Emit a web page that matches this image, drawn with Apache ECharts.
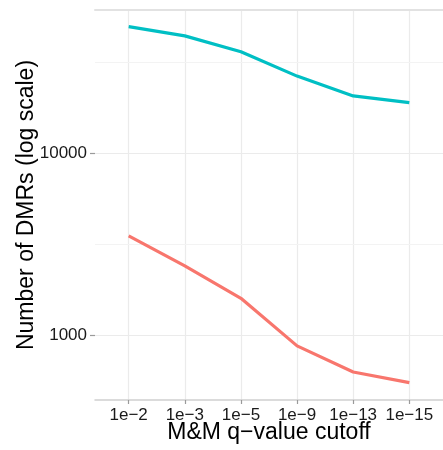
<!DOCTYPE html>
<html>
<head>
<meta charset="utf-8">
<title>Number of DMRs by M&amp;M q-value cutoff</title>
<script src="https://cdn.jsdelivr.net/npm/echarts@6/dist/echarts.min.js"></script>
<style>
  html, body { margin: 0; padding: 0; background: #ffffff; }
  #chart { width: 443px; height: 450px; }
</style>
</head>
<body>
<div id="chart"></div>
<script>
// q-value cutoffs shown along the x axis
const cutoffs = ['1e\u22122', '1e\u22123', '1e\u22125', '1e\u22129', '1e\u221213', '1e\u221215'];

// DMR counts for each cutoff
const dmrsUpper = [49800, 44300, 36200, 26600, 20700, 19000];
const dmrsLower = [3510, 2400, 1590, 870, 625, 546];

// log-scale breaks
const majorBreaks = [1000, 10000];
const minorBreaks = [3162, 31623];
const yRange = [438, 61500];

const positions = cutoffs.map((_, i) => i);
const toPoints = values => values.map((v, i) => [positions[i], v]);

const font = '"Liberation Sans", Arial, Helvetica, sans-serif';

const chart = echarts.init(document.getElementById('chart'), null, { renderer: 'canvas' });

chart.setOption({
  animation: false,
  backgroundColor: '#ffffff',
  grid: { left: 95, right: 0, top: 10, bottom: 50, containLabel: false, outerBoundsMode: 'none' },
  xAxis: [
    {
      type: 'value',
      min: -0.6,
      max: positions.length - 0.4,
      name: 'M&M q\u2212value cutoff',
      nameLocation: 'middle',
      nameGap: 21,
      nameMoveOverlap: false,
      nameTextStyle: { fontFamily: font, fontSize: 23, color: '#000000', verticalAlign: 'top' },
      axisLine: { show: true, onZero: false, lineStyle: { color: '#cfcfcf', width: 1.5 } },
      axisTick: { show: true, length: 4, customValues: positions, lineStyle: { color: '#9a9a9a', width: 1.2 } },
      axisLabel: {
        customValues: positions,
        margin: 7,
        fontFamily: font,
        fontSize: 17,
        color: '#1a1a1a',
        formatter: v => cutoffs[Math.round(v)] ?? ''
      },
      splitLine: { show: true, lineStyle: { color: '#ebebeb', width: 1.2 } }
    },
    {
      type: 'value',
      position: 'top',
      min: 0,
      max: 1,
      axisLine: { show: true, onZero: false, lineStyle: { color: '#e2e2e2', width: 2 } },
      axisTick: { show: false },
      axisLabel: { show: false },
      splitLine: { show: false }
    }
  ],
  yAxis: {
    type: 'log',
    logBase: 10,
    min: yRange[0],
    max: yRange[1],
    name: 'Number of DMRs (log scale)',
    nameLocation: 'middle',
    nameGap: 57,
    nameRotate: 90,
    nameMoveOverlap: false,
    nameTextStyle: { fontFamily: font, fontSize: 23, color: '#000000' },
    axisLine: { show: false, onZero: false },
    axisTick: { show: true, length: 5, customValues: majorBreaks, lineStyle: { color: '#9a9a9a', width: 1.2 } },
    axisLabel: {
      customValues: majorBreaks,
      margin: 8,
      fontFamily: font,
      fontSize: 17,
      color: '#1a1a1a',
      formatter: v => String(Math.round(v))
    },
    splitLine: { show: true, lineStyle: { color: '#ebebeb', width: 1.2 } }
  },
  series: [
    {
      type: 'line',
      data: toPoints(dmrsUpper),
      showSymbol: false,
      symbol: 'none',
      lineStyle: { color: '#00BFC4', width: 3.2 },
      itemStyle: { color: '#00BFC4' },
      z: 5,
      markLine: {
        silent: true,
        symbol: 'none',
        label: { show: false },
        lineStyle: { color: '#f3f3f3', width: 1, type: 'solid' },
        data: minorBreaks.map(v => ({ yAxis: v }))
      }
    },
    {
      type: 'line',
      data: toPoints(dmrsLower),
      showSymbol: false,
      symbol: 'none',
      lineStyle: { color: '#F8766D', width: 3.2 },
      itemStyle: { color: '#F8766D' },
      z: 5
    }
  ]
});
</script>
</body>
</html>
